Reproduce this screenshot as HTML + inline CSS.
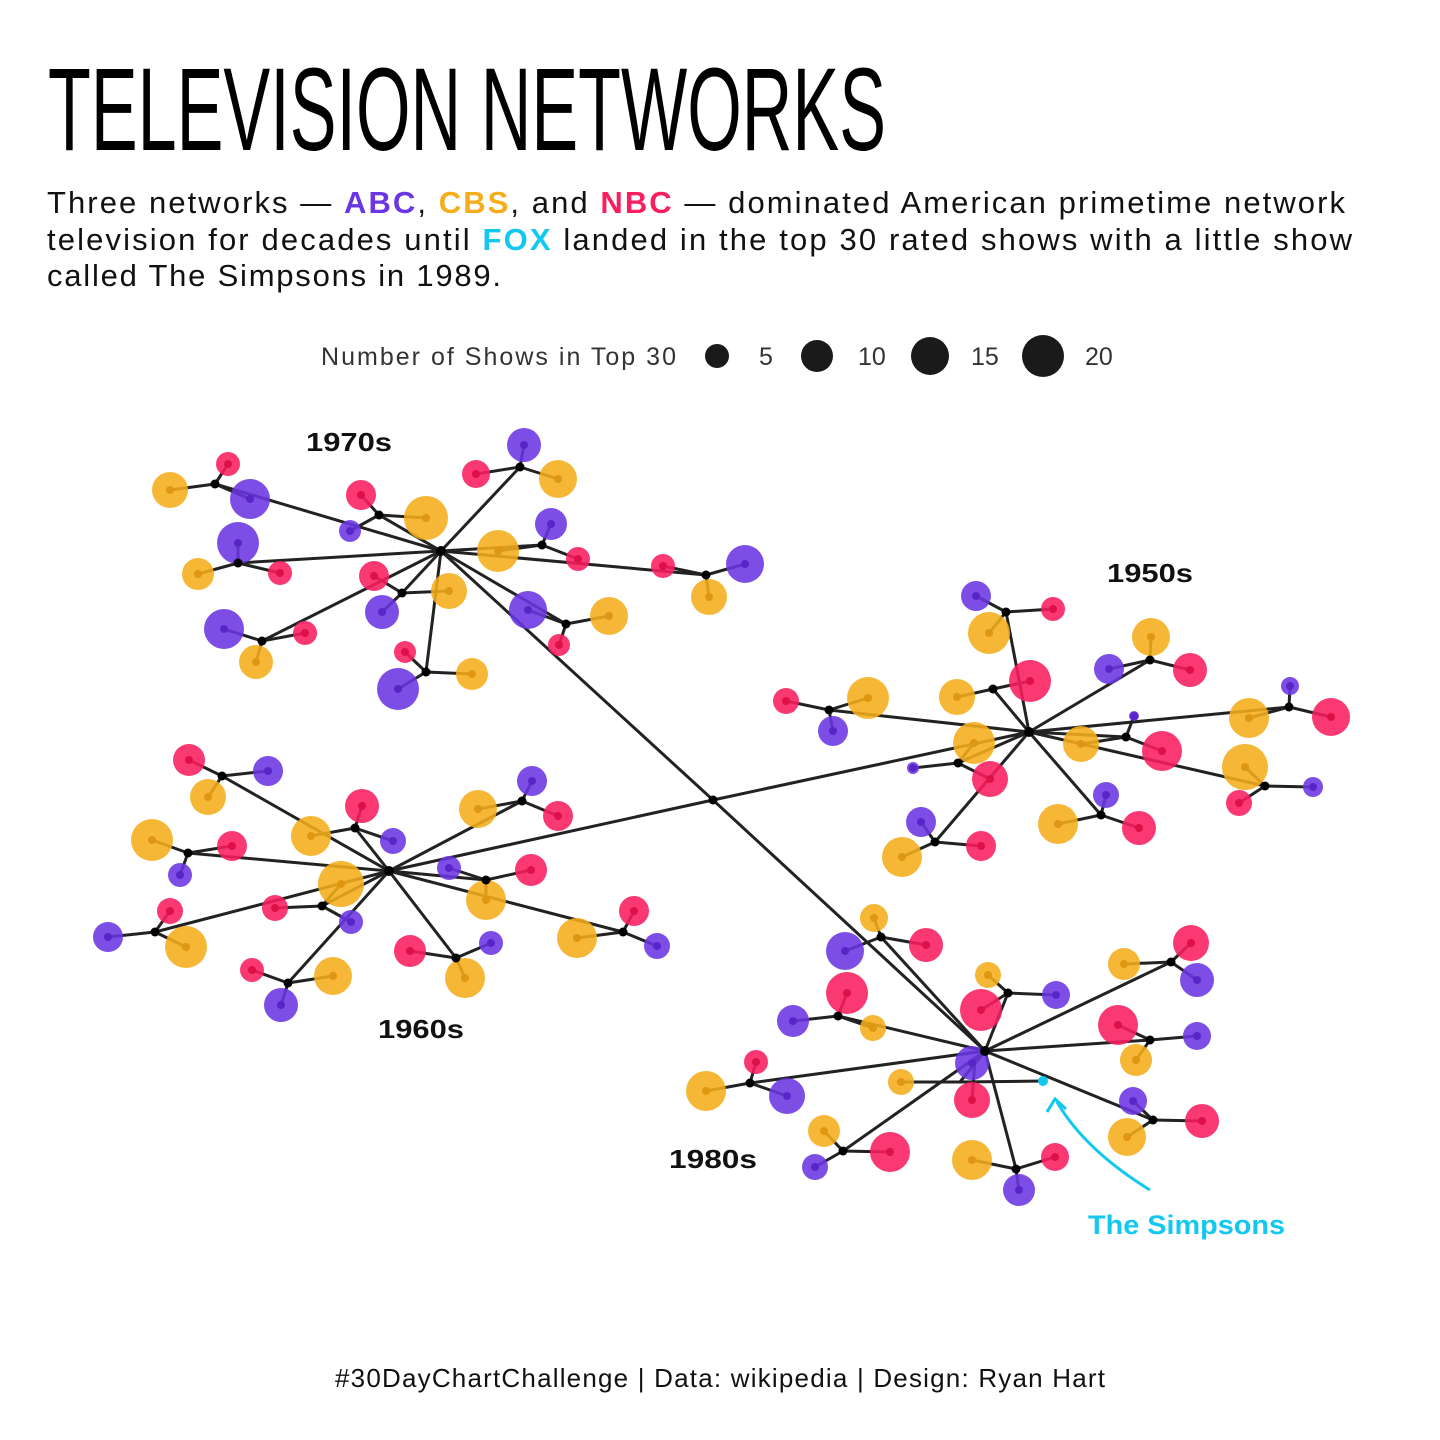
<!DOCTYPE html>
<html><head><meta charset="utf-8"><style>
html,body{margin:0;padding:0;background:#fff;}
svg{display:block;}
</style></head><body>
<svg id="s" width="1440" height="1440" viewBox="0 0 1440 1440" xmlns="http://www.w3.org/2000/svg" font-family="Liberation Sans, sans-serif">
<rect width="1440" height="1440" fill="#fff"/>
<text x="48" y="150" font-size="118" textLength="838" lengthAdjust="spacingAndGlyphs" fill="#000">TELEVISION NETWORKS</text>
<g font-size="31" fill="#111">
<text x="47" y="213" textLength="1298" lengthAdjust="spacing">Three networks — <tspan fill="#6a35e3" font-weight="bold">ABC</tspan>, <tspan fill="#f5ad1b" font-weight="bold">CBS</tspan>, and <tspan fill="#f91e5e" font-weight="bold">NBC</tspan> — dominated American primetime network</text>
<text x="47" y="250" textLength="1305" lengthAdjust="spacing">television for decades until <tspan fill="#12c8ee" font-weight="bold">FOX</tspan> landed in the top 30 rated shows with a little show</text>
<text x="47" y="286" textLength="454" lengthAdjust="spacing">called The Simpsons in 1989.</text>
</g>
<g font-size="25" fill="#333">
<text x="321" y="365" textLength="355" lengthAdjust="spacing">Number of Shows in Top 30</text>
<circle cx="717" cy="356" r="12" fill="#1a1a1a"/><text x="759" y="365">5</text>
<circle cx="817" cy="356" r="16" fill="#1a1a1a"/><text x="858" y="365">10</text>
<circle cx="930" cy="356" r="19" fill="#1a1a1a"/><text x="971" y="365">15</text>
<circle cx="1043" cy="356" r="21" fill="#1a1a1a"/><text x="1085" y="365">20</text>
</g>
<g id="net"></g>
<g font-size="26" font-weight="bold" fill="#111">
<text x="306" y="451" textLength="86" lengthAdjust="spacingAndGlyphs">1970s</text>
<text x="1107" y="582" textLength="86" lengthAdjust="spacingAndGlyphs">1950s</text>
<text x="378" y="1038" textLength="86" lengthAdjust="spacingAndGlyphs">1960s</text>
<text x="669" y="1168" textLength="88" lengthAdjust="spacingAndGlyphs">1980s</text>
</g>
<path d="M1150,1190 Q1085,1150 1057,1102" fill="none" stroke="#12c8ee" stroke-width="3"/>
<path d="M1047,1112 L1055,1099 L1066,1109" fill="none" stroke="#12c8ee" stroke-width="3"/>
<text x="1088" y="1234" font-size="27" font-weight="bold" fill="#12c8ee" textLength="197" lengthAdjust="spacingAndGlyphs">The Simpsons</text>
<text x="335" y="1387" font-size="26" fill="#111" textLength="770" lengthAdjust="spacing">#30DayChartChallenge | Data: wikipedia | Design: Ryan Hart</text>
</svg>
<script>
var C={a:"#6a35e3",c:"#f5ad1b",n:"#f91e5e",f:"#12c8ee"};
var D={a:"#5a25c8",c:"#df9610",n:"#dd1048",f:"#12c8ee"};
var root=[713,800];
var clusters=[
{h:[441,551],g:[
[[215,484],[[170,490,18,'c'],[228,464,12,'n'],[250,499,20,'a']]],
[[379,515],[[361,495,15,'n'],[426,518,22,'c'],[350,531,11,'a']]],
[[520,467],[[524,445,17,'a'],[476,474,14,'n'],[558,479,19,'c']]],
[[238,563],[[238,543,21,'a'],[198,574,16,'c'],[280,573,12,'n']]],
[[542,545],[[551,524,16,'a'],[578,559,12,'n'],[498,551,21,'c']]],
[[706,575],[[663,566,12,'n'],[745,564,19,'a'],[709,597,18,'c']]],
[[262,641],[[224,629,20,'a'],[256,662,17,'c'],[305,633,12,'n']]],
[[402,593],[[374,576,15,'n'],[382,612,17,'a'],[449,591,18,'c']]],
[[566,624],[[528,610,19,'a'],[609,616,19,'c'],[559,645,11,'n']]],
[[426,672],[[405,652,11,'n'],[398,689,21,'a'],[472,674,16,'c']]]]},
{h:[1029,732],g:[
[[1006,612],[[976,596,15,'a'],[989,633,21,'c'],[1053,609,12,'n']]],
[[993,689],[[957,697,18,'c'],[1030,681,21,'n']]],
[[1150,660],[[1151,637,19,'c'],[1109,669,15,'a'],[1190,670,17,'n']]],
[[829,710],[[786,701,13,'n'],[868,698,21,'c'],[833,731,15,'a']]],
[[1289,707],[[1290,686,9,'a'],[1249,718,20,'c'],[1331,717,19,'n']]],
[[1126,737],[[1134,716,5,'a'],[1081,744,18,'c'],[1162,751,20,'n']]],
[[958,763],[[974,743,21,'c'],[913,768,6,'a'],[990,779,18,'n']]],
[[1265,786],[[1245,767,23,'c'],[1239,803,13,'n'],[1313,787,10,'a']]],
[[1101,815],[[1106,795,13,'a'],[1058,824,20,'c'],[1139,828,17,'n']]],
[[935,842],[[921,822,15,'a'],[902,857,20,'c'],[981,846,15,'n']]]]},
{h:[389,871],g:[
[[222,776],[[189,760,16,'n'],[268,771,15,'a'],[208,797,18,'c']]],
[[355,828],[[311,836,20,'c'],[362,806,17,'n'],[393,841,13,'a']]],
[[522,801],[[532,781,15,'a'],[478,809,19,'c'],[558,816,15,'n']]],
[[188,853],[[152,840,21,'c'],[232,846,15,'n'],[180,875,12,'a']]],
[[486,880],[[449,868,12,'a'],[531,870,16,'n'],[486,900,20,'c']]],
[[322,906],[[341,884,23,'c'],[275,908,13,'n'],[351,922,12,'a']]],
[[155,932],[[108,937,15,'a'],[170,911,13,'n'],[186,947,21,'c']]],
[[623,932],[[577,938,20,'c'],[634,911,15,'n'],[657,946,13,'a']]],
[[456,958],[[410,951,16,'n'],[491,943,12,'a'],[465,978,20,'c']]],
[[288,983],[[252,970,12,'n'],[333,976,19,'c'],[281,1005,17,'a']]]]},
{h:[985,1051],g:[
[[881,937],[[874,918,14,'c'],[845,951,19,'a'],[926,945,17,'n']]],
[[1008,993],[[988,975,13,'c'],[981,1010,21,'n'],[1056,995,14,'a']]],
[[1171,962],[[1191,943,18,'n'],[1124,964,16,'c'],[1197,980,17,'a']]],
[[838,1016],[[847,993,21,'n'],[793,1021,16,'a'],[873,1028,13,'c']]],
[[1150,1040],[[1118,1025,20,'n'],[1197,1036,14,'a'],[1136,1060,16,'c']]],
[[975,1060],[[972,1063,17,'a'],[972,1100,18,'n']]],
[[960,1082],[[901,1082,13,'c'],[1043,1081,5,'f']]],
[[750,1083],[[706,1091,20,'c'],[756,1062,12,'n'],[787,1096,18,'a']]],
[[1153,1120],[[1133,1101,14,'a'],[1127,1137,19,'c'],[1202,1121,17,'n']]],
[[843,1151],[[824,1131,16,'c'],[815,1167,13,'a'],[890,1152,20,'n']]],
[[1016,1169],[[972,1160,20,'c'],[1055,1157,14,'n'],[1019,1190,16,'a']]]]}
];
var out='',circ='',dots='';
function L(a,b){out+='<line x1="'+a[0]+'" y1="'+a[1]+'" x2="'+b[0]+'" y2="'+b[1]+'" stroke="#222" stroke-width="3"/>';}
clusters.forEach(function(cl){
 L(root,cl.h);
 dots+='<circle cx="'+cl.h[0]+'" cy="'+cl.h[1]+'" r="5" fill="#000"/>';
 cl.g.forEach(function(g){
  var j=g[0];
  L(cl.h,j);
  g[1].forEach(function(c){
   L(j,[c[0],c[1]]);
   circ+='<circle cx="'+c[0]+'" cy="'+c[1]+'" r="'+c[2]+'" fill="'+C[c[3]]+'" fill-opacity="'+(c[3]=='f'?1:0.88)+'"/>';
   if(c[3]!='f')circ+='<circle cx="'+c[0]+'" cy="'+c[1]+'" r="4" fill="'+D[c[3]]+'"/>';
  });
  if(!((j[0]==960&&j[1]==1082)||(j[0]==975&&j[1]==1060)))dots+='<circle cx="'+j[0]+'" cy="'+j[1]+'" r="4.5" fill="#000"/>';
 });
});
dots+='<circle cx="713" cy="800" r="4.5" fill="#000"/>';
document.getElementById('net').innerHTML=out+circ+dots;
</script>
</body></html>
